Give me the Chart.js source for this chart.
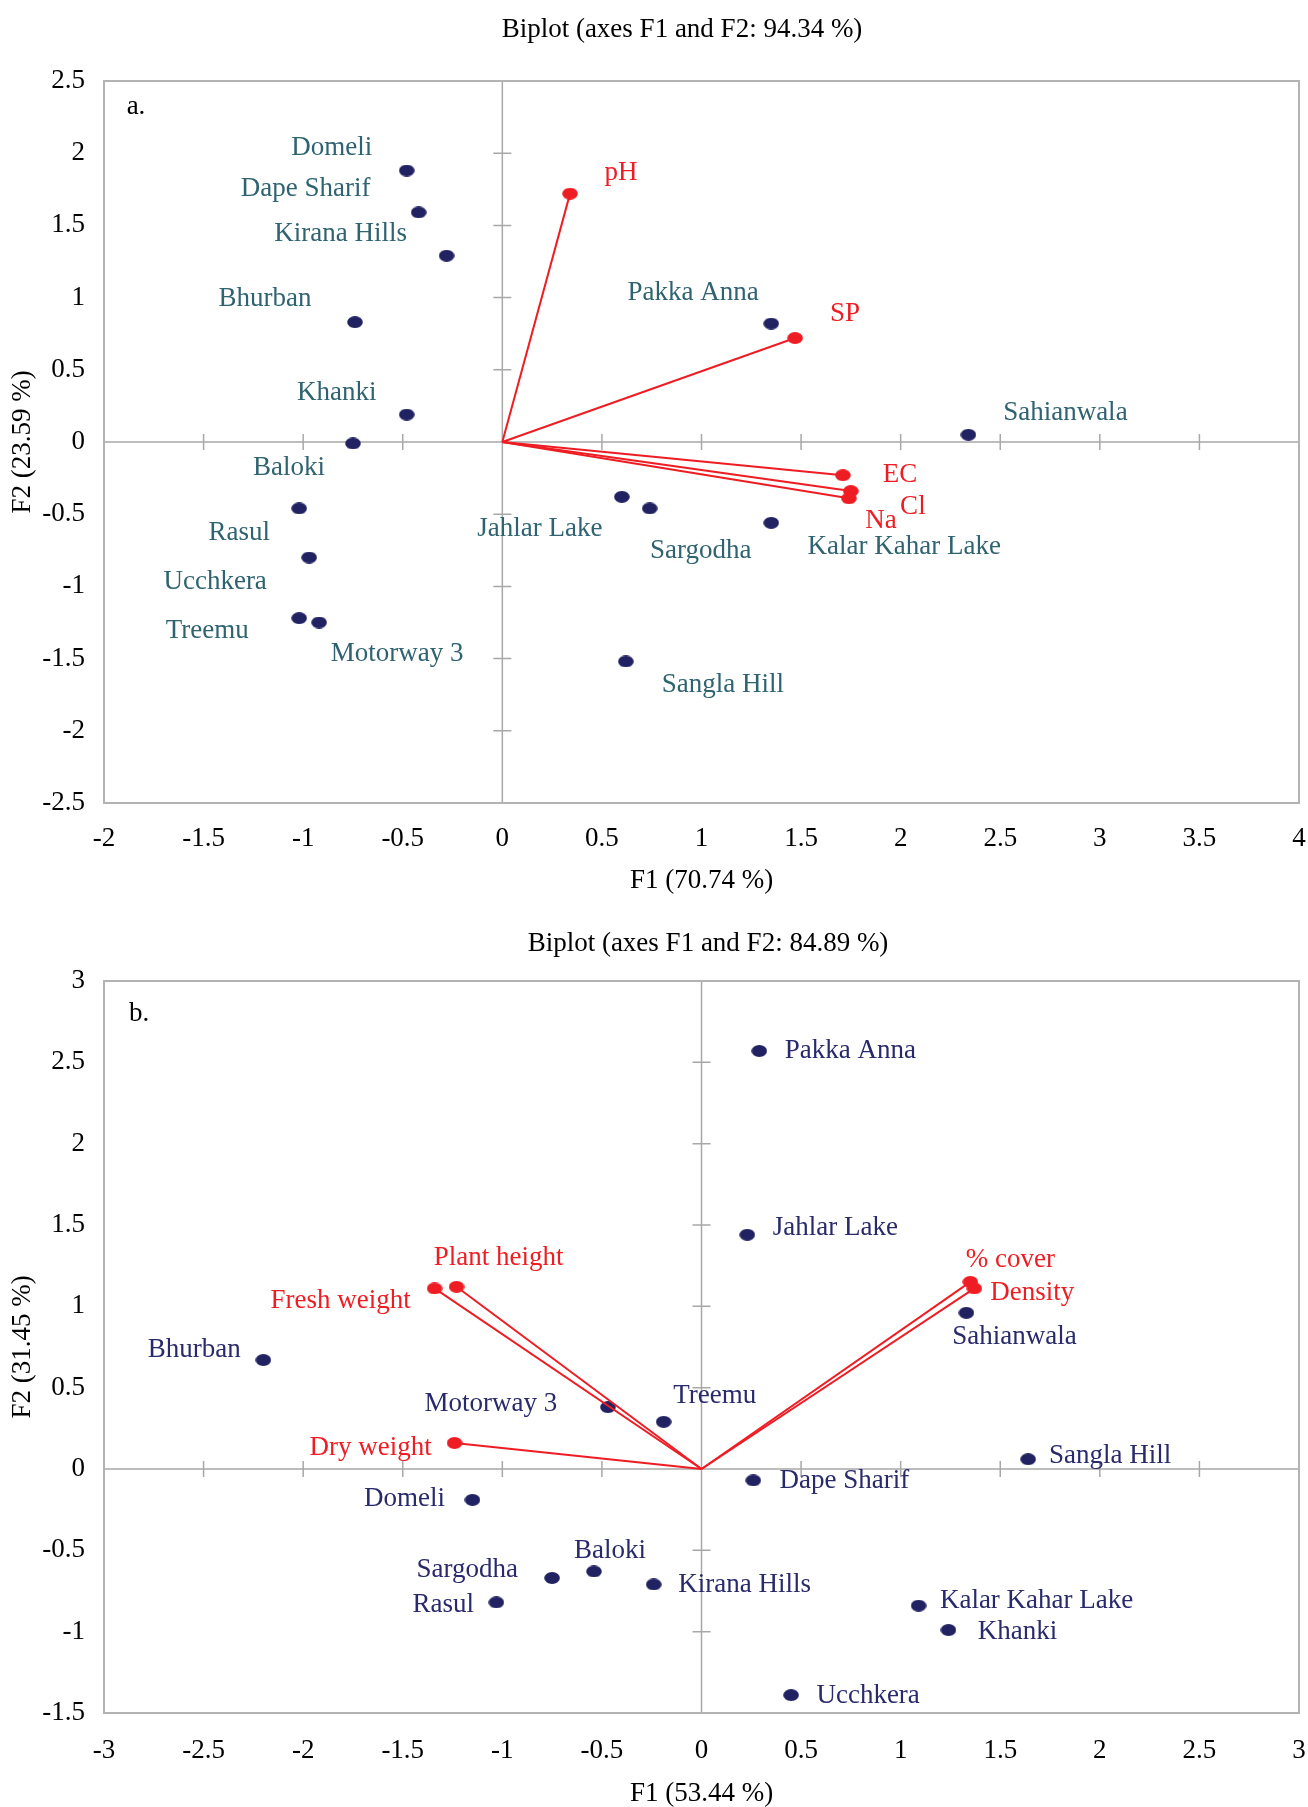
<!DOCTYPE html>
<html>
<head>
<meta charset="utf-8">
<script src="https://cdn.jsdelivr.net/npm/chart.js@4.4.1/dist/chart.umd.min.js"></script>
<style>
  body { margin: 0; background: #fff; }
  canvas { display: block; }
</style>
</head>
<body>
<canvas id="chart-a" width="1308" height="905" style="width:1308px;height:905px"></canvas>
<canvas id="chart-b" width="1308" height="902" style="width:1308px;height:902px"></canvas>
<script>
// ---- panel a: soil variables ----
const SITES_A = ['Domeli', 'Dape Sharif', 'Kirana Hills', 'Bhurban', 'Khanki', 'Baloki', 'Rasul', 'Ucchkera',
  'Treemu', 'Motorway 3', 'Pakka Anna', 'Sahianwala', 'Jahlar Lake', 'Sargodha', 'Kalar Kahar Lake', 'Sangla Hill'];
const F1_A = [-0.48, -0.42, -0.28, -0.74, -0.48, -0.75, -1.02, -0.97, -1.02, -0.92, 1.35, 2.34, 0.60, 0.74, 1.35, 0.62];
const F2_A = [1.88, 1.59, 1.29, 0.83, 0.19, -0.01, -0.46, -0.80, -1.22, -1.25, 0.82, 0.05, -0.38, -0.46, -0.56, -1.52];
const VARS_A = ['pH', 'SP', 'EC', 'Cl', 'Na'];
const VF1_A = [0.34, 1.47, 1.71, 1.75, 1.74];
const VF2_A = [1.72, 0.72, -0.23, -0.34, -0.39];

// ---- panel b: plant variables ----
const SITES_B = ['Pakka Anna', 'Jahlar Lake', 'Sahianwala', 'Treemu', 'Motorway 3', 'Bhurban', 'Sangla Hill', 'Dape Sharif',
  'Domeli', 'Baloki', 'Sargodha', 'Kirana Hills', 'Rasul', 'Kalar Kahar Lake', 'Khanki', 'Ucchkera'];
const F1_B = [0.29, 0.23, 1.33, -0.19, -0.47, -2.20, 1.64, 0.26, -1.15, -0.54, -0.75, -0.24, -1.03, 1.09, 1.24, 0.45];
const F2_B = [2.57, 1.44, 0.96, 0.29, 0.38, 0.67, 0.06, -0.07, -0.19, -0.63, -0.67, -0.71, -0.82, -0.84, -0.99, -1.39];
const VARS_B = ['Plant height', 'Fresh weight', 'Dry weight', '% cover', 'Density'];
const VF1_B = [-1.23, -1.34, -1.24, 1.35, 1.37];
const VF2_B = [1.12, 1.11, 0.16, 1.15, 1.11];

// label placement (pixel offsets of the text centre from its marker)
const SITE_OFFSETS_A = [[-75, -23], [-113, -23], [-106, -22], [-90, -23], [-70, -22], [-64, 24], [-60, 24], [-94, 24],
  [-92, 13], [78, 31], [-78, -31], [97, -22], [-82, 32], [51, 42], [133, 24], [97, 23]];
const VAR_OFFSETS_A = [[51, -21], [50, -24], [57, 0], [62, 16], [32, 23]];
const SITE_OFFSETS_B = [[91, 0], [88, -7], [48, 24], [51, -26], [-117, -3], [-69, -10], [82, -3], [91, 1],
  [-68, -1], [16, -21], [-85, -8], [91, 0], [-53, 3], [118, -5], [69, 2], [77, 1]];
const VAR_OFFSETS_B = [[42, -29], [-94, 12], [-84, 5], [40, -22], [58, 4]];

const RED = '#ee1d24';
const NAVY = '#212261';
const FONT = '"Liberation Serif", "Times New Roman", serif';
const AXIS_COLOR = '#a8a8a8';
const FRAME_COLOR = '#b3b3b3';

function ellipseDot(color) {
  const c = document.createElement('canvas');
  c.width = 16; c.height = 12;
  const g = c.getContext('2d');
  g.fillStyle = color;
  g.beginPath();
  g.ellipse(8, 6, 7.8, 5.9, 0, 0, Math.PI * 2);
  g.fill();
  return c;
}

const navyDot = ellipseDot(NAVY);
const redDot = ellipseDot(RED);

/* draws the frame, the zero axes with their small ticks, the heading and the text labels */
const biplotDecor = {
  id: 'biplotDecor',
  beforeDatasetsDraw(chart) {
    const { ctx, chartArea: a } = chart;
    const xs = chart.scales.x, ys = chart.scales.y;
    const x0 = xs.getPixelForValue(0), y0 = ys.getPixelForValue(0);
    ctx.save();
    ctx.strokeStyle = AXIS_COLOR;
    ctx.lineWidth = 1.5;
    ctx.beginPath();
    ctx.moveTo(x0, a.top); ctx.lineTo(x0, a.bottom);
    ctx.moveTo(a.left, y0); ctx.lineTo(a.right, y0);
    xs.ticks.forEach(t => {
      if (t.value === 0 || t.value === xs.min || t.value === xs.max) return;
      const p = xs.getPixelForValue(t.value);
      ctx.moveTo(p, y0 - 8); ctx.lineTo(p, y0 + 8);
    });
    ys.ticks.forEach(t => {
      if (t.value === 0 || t.value === ys.min || t.value === ys.max) return;
      const p = ys.getPixelForValue(t.value);
      ctx.moveTo(x0 - 9, p); ctx.lineTo(x0 + 9, p);
    });
    ctx.stroke();
    ctx.strokeStyle = FRAME_COLOR;
    ctx.lineWidth = 2;
    ctx.strokeRect(a.left, a.top, a.right - a.left, a.bottom - a.top);
    ctx.restore();
  },
  afterDatasetsDraw(chart, args, opts) {
    const { ctx, chartArea: a } = chart;
    const xs = chart.scales.x, ys = chart.scales.y;
    ctx.save();
    ctx.font = `27px ${FONT}`;
    ctx.textAlign = 'center';
    ctx.textBaseline = 'middle';
    opts.groups.forEach(grp => {
      ctx.fillStyle = grp.color;
      grp.names.forEach((name, i) => {
        const px = xs.getPixelForValue(grp.xs[i]) + grp.offsets[i][0];
        const py = ys.getPixelForValue(grp.ys[i]) + grp.offsets[i][1];
        ctx.fillText(name, px, py);
      });
    });
    ctx.fillStyle = '#000';
    ctx.fillText(opts.letter, a.left + opts.letterPos[0], a.top + opts.letterPos[1]);
    ctx.fillText(opts.heading, opts.headingPos[0], opts.headingPos[1]);
    ctx.restore();
  },
};

function renderBiplot(id, cfg) {
  const ctx = document.getElementById(id).getContext('2d');
  const datasets = [];

  cfg.vf1.forEach((x, i) => {
    datasets.push({
      data: [{ x: 0, y: 0 }, { x, y: cfg.vf2[i] }],
      showLine: true,
      borderColor: RED,
      borderWidth: 2,
      pointRadius: 0,
      order: 2,
    });
  });
  datasets.push({
    data: cfg.vf1.map((x, i) => ({ x, y: cfg.vf2[i] })),
    pointStyle: redDot,
    pointRadius: 7,
    order: 1,
  });
  datasets.push({
    data: cfg.f1.map((x, i) => ({ x, y: cfg.f2[i] })),
    pointStyle: navyDot,
    pointRadius: 7,
    order: 3,
  });

  const tickFont = { family: FONT, size: 27 };

  return new Chart(ctx, {
    type: 'scatter',
    data: { datasets },
    options: {
      responsive: false,
      animation: false,
      events: [],
      layout: { padding: { left: 0, right: 0, top: cfg.areaTop, bottom: 0 } },
      plugins: {
        legend: { display: false },
        tooltip: { enabled: false },
        title: { display: false },
        biplotDecor: {
          heading: cfg.title,
          headingPos: cfg.titlePos,
          letter: cfg.letter,
          letterPos: cfg.letterPos,
          groups: [
            { names: cfg.sites, xs: cfg.f1, ys: cfg.f2, offsets: cfg.siteOffsets, color: cfg.siteColor },
            { names: cfg.vars, xs: cfg.vf1, ys: cfg.vf2, offsets: cfg.varOffsets, color: RED },
          ],
        },
      },
      scales: {
        x: {
          type: 'linear',
          min: cfg.xRange[0],
          max: cfg.xRange[1],
          grid: { display: false },
          border: { display: false },
          ticks: {
            stepSize: 0.5, autoSkip: false, maxRotation: 0,
            padding: cfg.xTickPad, color: '#000', font: tickFont,
            callback: v => String(v),
          },
          title: {
            display: true, text: cfg.xTitle, color: '#000',
            font: { family: FONT, size: 27 }, padding: { top: 0, bottom: cfg.xTitlePad },
          },
          afterFit: s => {
            s.height = cfg.xAxisHeight;
            s.paddingLeft = 0;
            s.paddingRight = 9;
          },
        },
        y: {
          type: 'linear',
          min: cfg.yRange[0],
          max: cfg.yRange[1],
          grid: { display: false },
          border: { display: false },
          ticks: {
            stepSize: 0.5, autoSkip: false,
            padding: 11, color: '#000', font: tickFont,
            callback: v => String(v),
          },
          title: {
            display: true, text: cfg.yTitle, color: '#000',
            font: { family: FONT, size: 27 }, padding: { top: 7, bottom: 0 },
          },
          afterFit: s => {
            s.width = 104;
            s.paddingTop = 0;
            s.paddingBottom = 0;
          },
        },
      },
    },
    plugins: [biplotDecor],
  });
}

renderBiplot('chart-a', {
  title: 'Biplot (axes F1 and F2: 94.34 %)', titlePos: [682, 30],
  areaTop: 81,
  letter: 'a.', letterPos: [32, 26],
  xTitle: 'F1 (70.74 %)', yTitle: 'F2 (23.59 %)',
  xRange: [-2, 4], yRange: [-2.5, 2.5],
  xTickPad: 12, xTitlePad: 8, xAxisHeight: 102,
  sites: SITES_A, f1: F1_A, f2: F2_A, siteOffsets: SITE_OFFSETS_A, siteColor: '#2f6370',
  vars: VARS_A, vf1: VF1_A, vf2: VF2_A, varOffsets: VAR_OFFSETS_A,
});

renderBiplot('chart-b', {
  title: 'Biplot (axes F1 and F2: 84.89 %)', titlePos: [708, 39],
  areaTop: 76,
  letter: 'b.', letterPos: [35, 33],
  xTitle: 'F1 (53.44 %)', yTitle: 'F2 (31.45 %)',
  xRange: [-3, 3], yRange: [-1.5, 3],
  xTickPad: 14, xTitlePad: -3, xAxisHeight: 94,
  sites: SITES_B, f1: F1_B, f2: F2_B, siteOffsets: SITE_OFFSETS_B, siteColor: '#282a6c',
  vars: VARS_B, vf1: VF1_B, vf2: VF2_B, varOffsets: VAR_OFFSETS_B,
});
</script>
</body>
</html>
